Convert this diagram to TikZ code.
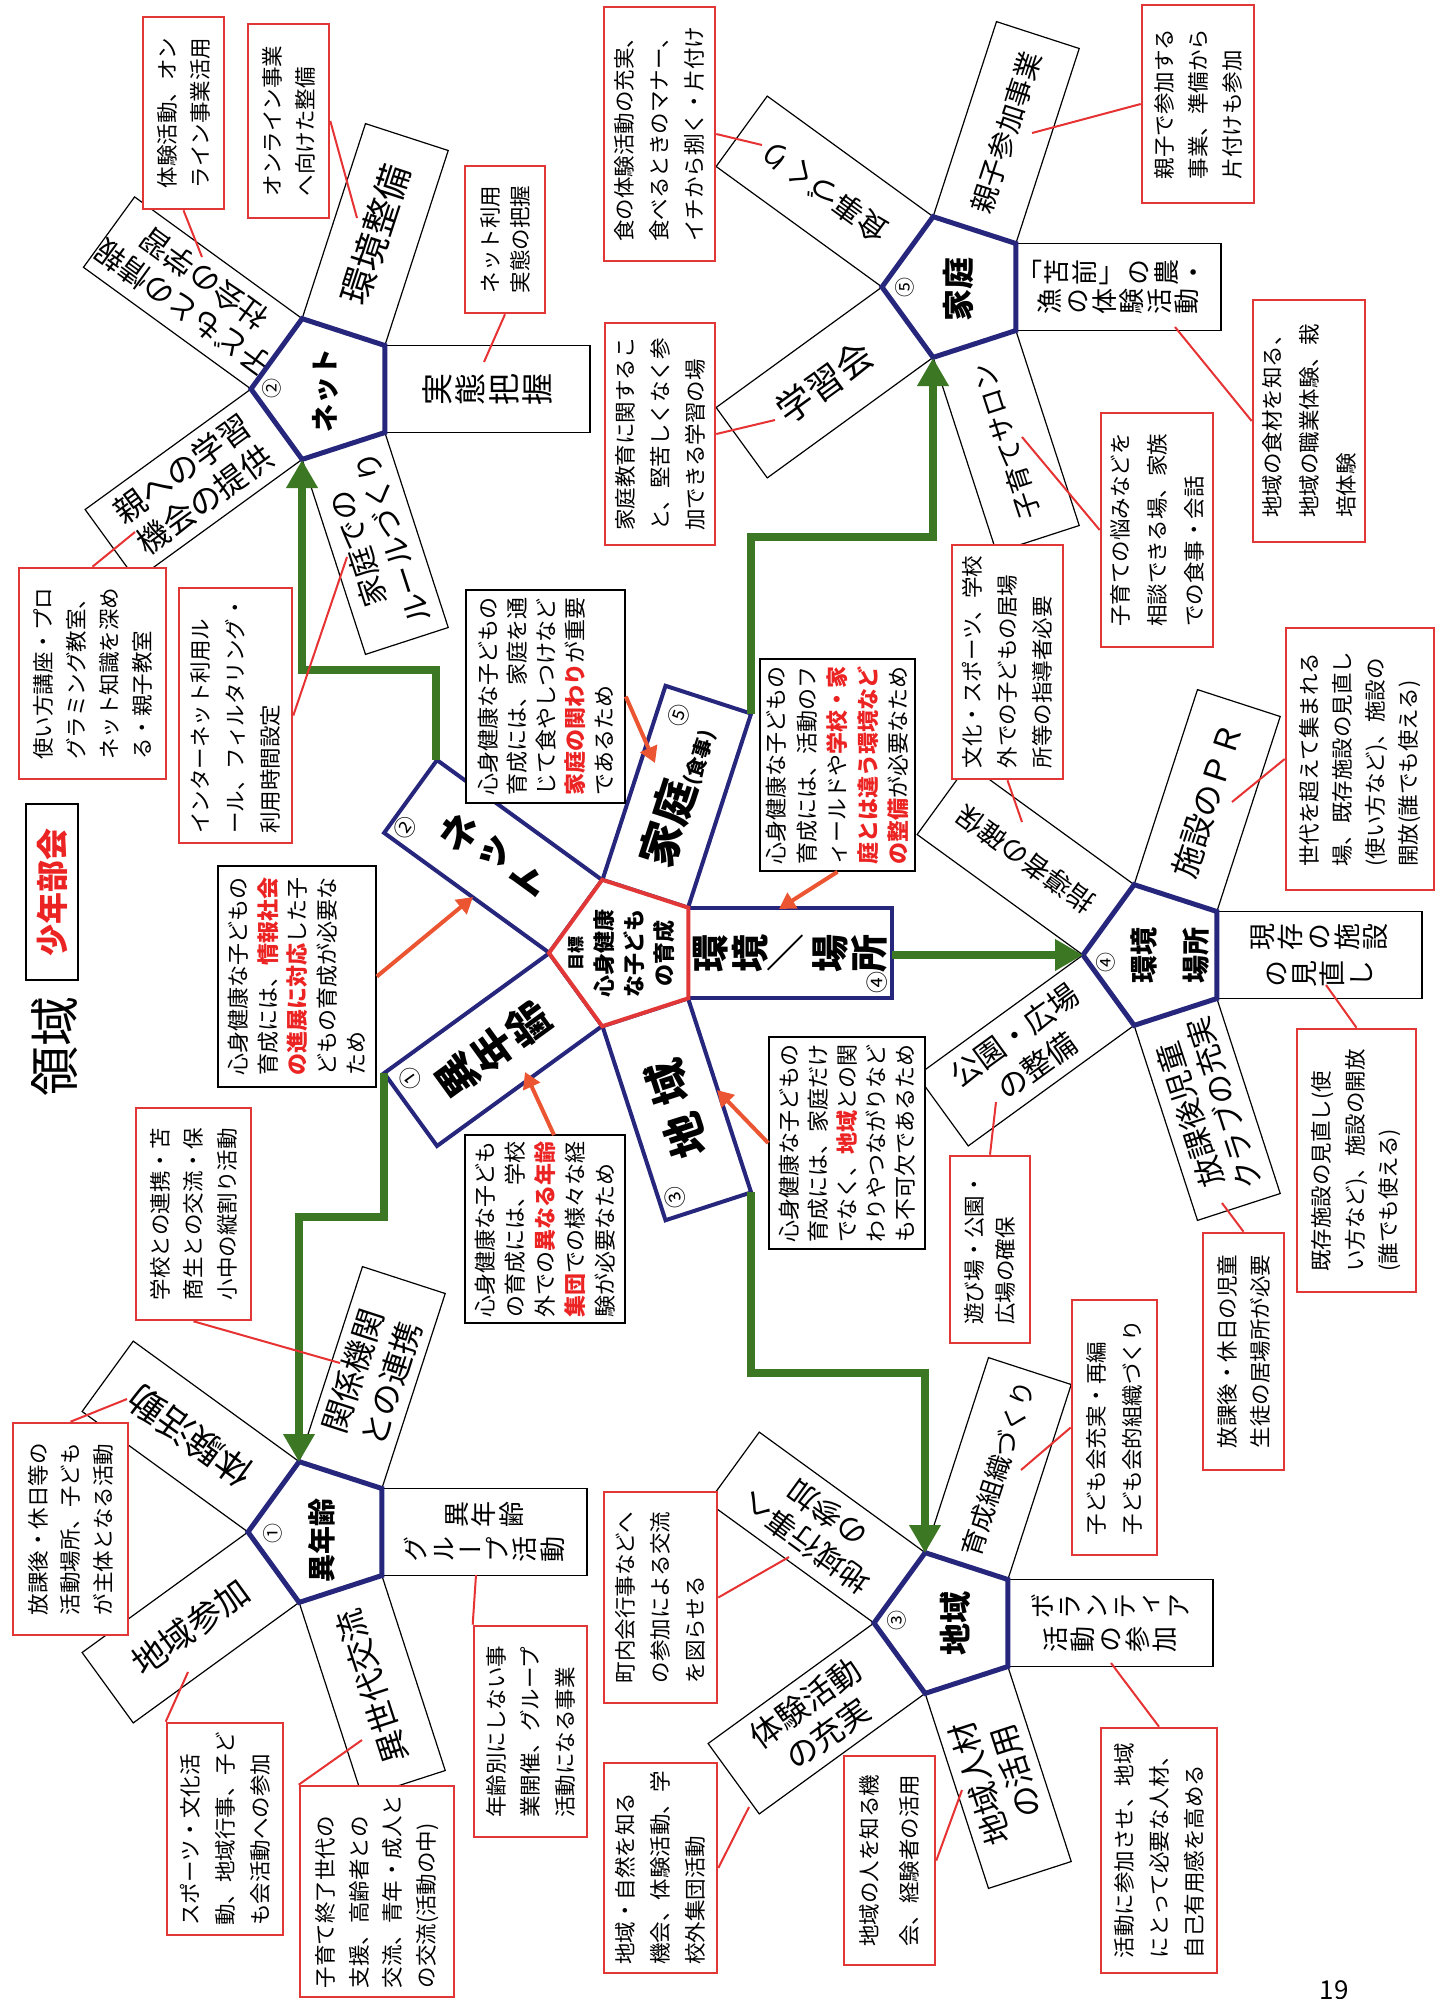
\documentclass[tikz,border=0pt]{standalone}
\usepackage{fontspec}
\usepackage{graphicx}
\setmainfont{Noto Sans CJK JP}
\newfontfamily\jpv{Noto Sans CJK JP}[RawFeature=+vert]
\usetikzlibrary{arrows.meta}
\definecolor{navy}{RGB}{38,38,125}
\definecolor{boxred}{RGB}{225,55,55}
\definecolor{linered}{RGB}{230,50,50}
\definecolor{arrred}{RGB}{235,85,50}
\definecolor{txtred}{RGB}{235,35,35}
\definecolor{grn}{RGB}{60,120,35}
\newcommand\fs[2]{\fontsize{#1}{#2}\selectfont}
\newcommand\redb[1]{{\color{txtred}\bfseries #1}}
\makeatletter
\def\tate@end{tate@end@quark}
\def\tate@loop#1{\ifx\tate@end#1\else\hbox to 1em{\hss#1\hss}\expandafter\tate@loop\fi}
\newcommand\tate[1]{\ensuremath{\vcenter{\jpv\baselineskip=1.05em\lineskiplimit=-100pt\lineskip=0pt\tate@loop#1\tate@end}}}
\newcommand\tatetwo[3]{\tate{#3}\hspace{#1}\tate{#2}}
\makeatother
\newcommand\petal[6]{\node[#5] (#1) at ({#2+162.4*cos(#4)},{#3+162.4*sin(#4)}) {#6};}
\newcommand\pent[4]{\draw[#4] ({#1-#3},{#2}) -- ({#1-0.309*#3},{#2-0.951*#3}) -- ({#1+0.809*#3},{#2-0.588*#3}) -- ({#1+0.809*#3},{#2+0.588*#3}) -- ({#1-0.309*#3},{#2+0.951*#3}) -- cycle;}
\begin{document}
\begin{tikzpicture}[x=0.5pt,y=-0.5pt,
  petal/.style={draw=black, line width=0.6pt, fill=white, inner sep=0pt, align=center},
  pyoko/.style={petal, minimum width=102.5pt, minimum height=43.5pt},
  ptate/.style={petal, minimum width=43.5pt, minimum height=102.5pt, rotate=90},
  arm/.style={draw=navy, line width=2pt, fill=white, inner sep=0pt},
  armv/.style={arm, minimum width=45pt, minimum height=102pt},
  armh/.style={arm, minimum width=102pt, minimum height=45pt},
  note/.style={draw=boxred, line width=1.3pt, fill=white, rotate=90, inner sep=0pt, align=left},
  reason/.style={draw=black, line width=0.8pt, fill=white, rotate=90, inner sep=0pt, align=left},
  conn/.style={draw=linered, line width=1pt},
  rarrow/.style={draw=arrred, line width=2pt, -{Triangle[width=9pt,length=8pt]}},
  garrow/.style={draw=grn, line width=4pt, -{Triangle[width=15pt,length=14pt]}},
  num/.style={inner sep=0pt, font=\fs{10}{10}},
  satpent/.style={draw=navy, line width=2.5pt, fill=white},
  lab/.style={inner sep=0pt, rotate=90, font=\bfseries\fs{14}{14}}
]
\path[use as bounding box, fill=white] (0,0) rectangle (1446,1999);

% ---------- petals ----------
% Net
\petal{pNet0}{325}{389}{0}{ptate, font=\fs{16}{16}}{\tate{実態把握}}
\petal{pNet72}{325}{389}{72}{pyoko, rotate=108, font=\fs{15}{18}}{家庭での\\ルールづくり}
\petal{pNet144}{325}{389}{144}{pyoko, rotate=36, font=\fs{16}{19}}{親への学習\\機会の提供}
\petal{pNet216}{325}{389}{216}{pyoko, rotate=144, font=\fs{15}{18}}{子どもとの情報\\社会の学習}
\petal{pNet288}{325}{389}{288}{pyoko, rotate=72, font=\fs{18}{21}}{環境整備}
% Home
\petal{pHome0}{956}{287}{0}{ptate, font=\fs{13}{13}}{\tatetwo{1.5pt}{「苫前」の農・}{漁の体験活動}}
\petal{pHome72}{956}{287}{72}{pyoko, rotate=108, font=\fs{13.5}{16}}{子育てサロン}
\petal{pHome144}{956}{287}{144}{pyoko, rotate=36, font=\fs{18}{21}}{学習会}
\petal{pHome216}{956}{287}{216}{pyoko, rotate=144, font=\fs{15}{18}}{食事づくり}
\petal{pHome288}{956}{287}{288}{pyoko, rotate=72, font=\fs{14}{17}}{親子参加事業}
% Environment
\petal{pEnv0}{1157}{955}{0}{ptate, font=\fs{13.5}{13.5}}{\tatetwo{5pt}{現存の施設}{の見直し}}
\petal{pEnv72}{1157}{955}{72}{pyoko, rotate=108, font=\fs{15}{18}}{放課後児童\\クラブの充実}
\petal{pEnv144}{1157}{955}{144}{pyoko, rotate=36, font=\fs{15}{19}}{公園・広場\\の整備}
\petal{pEnv216}{1157}{955}{216}{pyoko, rotate=144, font=\fs{13.5}{16}}{指導者の確保}
\petal{pEnv288}{1157}{955}{288}{pyoko, rotate=72, font=\fs{16}{19}}{施設のＰＲ}
% Age
\petal{pAge0}{322}{1532}{0}{ptate, font=\fs{13}{13}}{\tatetwo{4.5pt}{異年齢}{グループ活動}}
\petal{pAge72}{322}{1532}{72}{pyoko, rotate=108, font=\fs{16}{19}}{異世代交流}
\petal{pAge144}{322}{1532}{144}{pyoko, rotate=36, font=\fs{17}{20}}{地域参加}
\petal{pAge216}{322}{1532}{216}{pyoko, rotate=144, font=\fs{18}{21}}{体験活動}
\petal{pAge288}{322}{1532}{288}{pyoko, rotate=72, font=\fs{16}{20}}{関係機関\\との連携}
% Region
\petal{pReg0}{948}{1623}{0}{ptate, font=\fs{13}{13}}{\tatetwo{3.5pt}{ボランティア}{活動の参加}}
\petal{pReg72}{948}{1623}{72}{pyoko, rotate=108, font=\fs{16}{19}}{地域人材\\の活用}
\petal{pReg144}{948}{1623}{144}{pyoko, rotate=36, font=\fs{16}{19}}{体験活動\\の充実}
\petal{pReg216}{948}{1623}{216}{pyoko, rotate=144, font=\fs{15}{18}}{地域行事へ\\の参加}
\petal{pReg288}{948}{1623}{288}{pyoko, rotate=72, font=\fs{13}{16}}{育成組織づくり}

% ---------- satellite pentagons ----------
\pent{325}{389}{74}{satpent}
\pent{956}{287}{74}{satpent}
\pent{1157}{955}{74}{satpent}
\pent{322}{1532}{74}{satpent}
\pent{948}{1623}{74}{satpent}
\node[lab] (lNet) at (325,390) {ネット};
\node[num, rotate=90] (nNetS) at (272,388) {②};
\node[lab, font=\bfseries\fs{16}{16}] (lHome) at (958,289) {家庭};
\node[num, rotate=90] (nHomeS) at (905,287) {⑤};
\node[lab] (lEnvA) at (1144,955) {環境};
\node[lab] (lEnvB) at (1196,955) {場所};
\node[num, rotate=90] (nEnvS) at (1106,962) {④};
\node[lab] (lAge) at (322,1540) {異年齢};
\node[num, rotate=90] (nAgeS) at (273,1533) {①};
\node[lab, font=\bfseries\fs{16}{16}] (lReg) at (955,1623) {地域};
\node[num, rotate=90] (nRegS) at (897,1620) {③};

% ---------- central arms ----------
\node[armv, rotate=54, font=\bfseries\fs{20}{20}] (armNet) at (493.1,856.4) {\tate{ネット}};
\node[armh, rotate=72] (armHome) at (676.8,796.7) {\bfseries\fs{22}{22}家庭\fs{10}{10}(食事)};
\node[armv, rotate=90, font=\bfseries\fs{19}{19}] (armEnv) at (790.3,953) {\tate{環境{\rotatebox{90}{／}}場所}};
\node[armh, rotate=108, font=\bfseries\fs{22}{22}] (armReg) at (676.8,1109.3) {地\hspace{6pt}域};
\node[armv, rotate=126, font=\bfseries\fs{21}{21}] (armAge) at (493.1,1049.6) {\tate{異年齢}};
\node[num, rotate=54, font=\fs{11}{11}] (nNet) at (405,828) {②};
\node[num, rotate=72, font=\fs{11}{11}] (nHome) at (679,715) {⑤};
\node[num, rotate=90, font=\fs{11}{11}] (nEnv) at (877,982) {④};
\node[num, rotate=108, font=\fs{11}{11}] (nReg) at (675,1198) {③};
\node[num, rotate=126, font=\fs{11}{11}] (nAge) at (410,1078) {①};
\pent{626}{953}{77}{draw=boxred, line width=2pt, fill=white}
\node[rotate=90, align=center, inner sep=0pt, font=\bfseries\fs{11}{15}] (goal) at (621,953) {{\fs{8.5}{15}目標}\\心身健康\\な子ども\\の育成};

% ---------- notes ----------
\node[note, minimum width=96pt, minimum height=40.5pt, font=\fs{10.75}{16.5}] (n1) at (183.5,113) {体験活動、オン\\ライン事業活用};
\node[note, minimum width=97pt, minimum height=40.5pt, font=\fs{10.75}{16.5}] (n2) at (288.5,121) {オンライン事業\\へ向けた整備};
\node[note, minimum width=73.5pt, minimum height=40pt, font=\fs{10.75}{15}] (n3) at (505,239.5) {ネット利用\\実態の把握};
\node[note, minimum width=127pt, minimum height=55.5pt, font=\fs{10.75}{17.5}] (n4) at (659.5,134) {食の体験活動の充実、\\食べるときのマナー、\\イチから捌く・片付け};
\node[note, minimum width=111pt, minimum height=55pt, font=\fs{10.75}{17.5}] (n5) at (660,434) {家庭教育に関するこ\\と、堅苦しくなく参\\加できる学習の場};
\node[note, minimum width=99pt, minimum height=56pt, font=\fs{10.75}{17}] (n6) at (1198,104) {親子で参加する\\事業、準備から\\片付けも参加};
\node[note, minimum width=121pt, minimum height=56pt, font=\fs{10.75}{18.5}] (n7) at (1309,421) {地域の食材を知る、\\地域の職業体験、栽\\培体験};
\node[note, minimum width=105.5pt, minimum height=73.5pt, font=\fs{10.75}{16.5}] (n8) at (92.5,673.5) {使い方講座・プロ\\グラミング教室、\\ネット知識を深め\\る・親子教室};
\node[note, minimum width=127.5pt, minimum height=56.5pt, font=\fs{10.75}{17.5}] (n9) at (235.5,715.5) {インターネット利用ル\\ール、フィルタリング・\\利用時間設定};
\node[note, minimum width=117pt, minimum height=56pt, font=\fs{10.75}{18.5}] (n14) at (1157,530) {子育ての悩みなどを\\相談できる場、家族\\での食事・会話};
\node[note, minimum width=117pt, minimum height=55.5pt, font=\fs{10.75}{17.5}] (n15) at (1007.5,662) {文化・スポーツ、学校\\外での子どもの居場\\所等の指導者必要};
\node[note, minimum width=131pt, minimum height=74pt, font=\fs{10.75}{16.5}] (n16) at (1360,759) {世代を超えて集まれる\\場、既存施設の見直し\\(使い方など)、施設の\\開放(誰でも使える)};
\node[note, minimum width=106pt, minimum height=57.5pt, font=\fs{10.75}{16.75}] (n17) at (193.5,1214) {学校との連携・苫\\商生との交流・保\\小中の縦割り活動};
\node[note, minimum width=106pt, minimum height=57.5pt, font=\fs{10.75}{16.25}] (n18) at (70.5,1529) {放課後・休日等の\\活動場所、子ども\\が主体となる活動};
\node[note, minimum width=93.5pt, minimum height=40pt, font=\fs{10.75}{15.5}] (n21) at (990,1249.5) {遊び場・公園・\\広場の確保};
\node[note, minimum width=118.5pt, minimum height=40.5pt, font=\fs{10.75}{16.5}] (n22) at (1243.5,1351.5) {放課後・休日の児童\\生徒の居場所が必要};
\node[note, minimum width=131.5pt, minimum height=59.5pt, font=\fs{10.75}{16.75}] (n23) at (1356.5,1160.5) {既存施設の見直し(使\\い方など)、施設の開放\\(誰でも使える)};
\node[note, minimum width=127.5pt, minimum height=42.5pt, font=\fs{10.75}{18}] (n24) at (1114.5,1427.5) {子ども会充実・再編\\子ども会的組織づくり};
\node[note, minimum width=106pt, minimum height=58pt, font=\fs{10.75}{17.5}] (n25) at (225,1829) {スポーツ・文化活\\動、地域行事、子ど\\も会活動への参加};
\node[note, minimum width=105.5pt, minimum height=77pt, font=\fs{10.75}{16.75}] (n26) at (377,1891.5) {子育て終了世代の\\支援、高齢者との\\交流、青年・成人と\\の交流(活動の中)};
\node[note, minimum width=105.5pt, minimum height=56.5pt, font=\fs{10.75}{17.25}] (n27) at (530.5,1731.5) {年齢別にしない事\\業開催、グループ\\活動になる事業};
\node[note, minimum width=105.5pt, minimum height=56.5pt, font=\fs{10.75}{17.5}] (n28) at (660.5,1597.5) {町内会行事などへ\\の参加による交流\\を図らせる};
\node[note, minimum width=105pt, minimum height=56.5pt, font=\fs{10.75}{17.5}] (n29) at (660.5,1868) {地域・自然を知る\\機会、体験活動、学\\校外集団活動};
\node[note, minimum width=104.5pt, minimum height=45.5pt, font=\fs{10.75}{20}] (n30) at (889.5,1860.5) {地域の人を知る機\\会、経験者の活用};
\node[note, minimum width=122.5pt, minimum height=58pt, font=\fs{10.75}{17.5}] (n31) at (1159,1850.5) {活動に参加させ、地域\\にとって必要な人材、\\自己有用感を高める};

% reason boxes
\node[reason, minimum width=110.5pt, minimum height=79pt, font=\fs{11}{14.75}] (n11) at (297,976.5) {心身健康な子どもの\\育成には、\redb{情報社会}\\\redb{の進展に対応}した子\\どもの育成が必要な\\ため};
\node[reason, minimum width=106.5pt, minimum height=79.5pt, font=\fs{11}{14.5}] (n12) at (545.5,696.5) {心身健康な子どもの\\育成には、家庭を通\\じて食やしつけなど\\\redb{家庭の関わり}が重要\\であるため};
\node[reason, minimum width=106pt, minimum height=77.5pt, font=\fs{11}{15.25}] (n13) at (837.5,765) {心身健康な子どもの\\育成には、活動のフ\\ィールドや\redb{学校・家}\\\redb{庭とは違う環境など}\\\redb{の整備}が必要なため};
\node[reason, minimum width=94pt, minimum height=80pt, font=\fs{11}{15}] (n19) at (545,1229) {心身健康な子ども\\の育成には、学校\\外での\redb{異なる年齢}\\\redb{集団}での様々な経\\験が必要なため};
\node[reason, minimum width=106pt, minimum height=78pt, font=\fs{11}{14.5}] (n20) at (847,1143) {心身健康な子どもの\\育成には、家庭だけ\\でなく、\redb{地域}との関\\わりやつながりなど\\も不可欠であるため};

% title
\node[rotate=90, inner sep=0pt, font=\fs{25}{25}] (title) at (55,1046) {領域};
\node[draw=black, line width=0.8pt, rotate=90, minimum width=88pt, minimum height=26pt, inner sep=0pt, font=\bfseries\fs{16}{16}, text=txtred] (bukai) at (52,892) {少年部会};
\node[inner sep=0pt, font=\fs{13}{13}] (page) at (1334,1990) {19};

% ---------- green arrows ----------
\coordinate (gA0) at (384,1073); \coordinate (gA1) at (384,1217); \coordinate (gA2) at (299,1217); \coordinate (gA3) at (299,1462);
\draw[garrow] (gA0) -- (gA1) -- (gA2) -- (gA3);
\coordinate (gN0) at (436,760); \coordinate (gN1) at (436,670); \coordinate (gN2) at (302,670); \coordinate (gN3) at (302,460);
\draw[garrow] (gN0) -- (gN1) -- (gN2) -- (gN3);
\coordinate (gH0) at (751,714); \coordinate (gH1) at (751,537); \coordinate (gH2) at (933,537); \coordinate (gH3) at (933,358);
\draw[garrow] (gH0) -- (gH1) -- (gH2) -- (gH3);
\coordinate (gE0) at (892,955); \coordinate (gE1) at (1083,955);
\draw[garrow] (gE0) -- (gE1);
\coordinate (gR0) at (751,1192); \coordinate (gR1) at (751,1373); \coordinate (gR2) at (925,1373); \coordinate (gR3) at (925,1553);
\draw[garrow] (gR0) -- (gR1) -- (gR2) -- (gR3);

% ---------- red connectors ----------
\coordinate (t1) at (202,257); \draw[conn] (n1.west) -- (t1);
\coordinate (t2) at (357,218); \draw[conn] (n2.south) -- (t2);
\coordinate (t3) at (484,362); \draw[conn] (n3.west) -- (t3);
\coordinate (t4) at (762,145); \draw[conn] (n4.south) -- (t4);
\coordinate (t5) at (775,420); \draw[conn] (n5.south) -- (t5);
\coordinate (t6) at (1032,133); \draw[conn] (n6.north) -- (t6);
\coordinate (t7) at (1175,327); \draw[conn] (n7.north) -- (t7);
\coordinate (t8) at (135,532); \draw[conn] (n8.east) -- (t8);
\coordinate (t9) at (347,557); \draw[conn] (n9.south) -- (t9);
\coordinate (t14) at (1022,437); \draw[conn] (n14.north) -- (t14);
\coordinate (t15) at (1022,822); \draw[conn] (n15.west) -- (t15);
\coordinate (t16) at (1232,802); \draw[conn] (n16.north) -- (t16);
\coordinate (t17) at (340,1363); \draw[conn] (n17.west) -- (t17);
\coordinate (t18) at (127,1399); \draw[conn] (n18.east) -- (t18);
\coordinate (t21) at (996,1102); \draw[conn] (n21.east) -- (t21);
\coordinate (t22) at (1222,1203); \draw[conn] (n22.east) -- (t22);
\coordinate (t23) at (1326,985); \draw[conn] (n23.east) -- (t23);
\coordinate (t24) at (1021,1470); \draw[conn] (n24.north) -- (t24);
\coordinate (t25) at (188,1672); \draw[conn] (n25.north east) -- (t25);
\coordinate (t26) at (362,1740); \draw[conn] (n26.north east) -- (t26);
\coordinate (t27) at (476,1575); \draw[conn] (n27.north east) -- (t27);
\coordinate (t28) at (789,1557); \draw[conn] (n28.south) -- (t28);
\coordinate (t29) at (749,1807); \draw[conn] (n29.south) -- (t29);
\coordinate (t30) at (962,1790); \draw[conn] (n30.south) -- (t30);
\coordinate (t31) at (1111,1663); \draw[conn] (n31.east) -- (t31);

% ---------- red arrows ----------
\coordinate (r11) at (473,897); \draw[rarrow] (n11.south) -- (r11);
\coordinate (r12) at (655,763); \draw[rarrow] (n12.south) -- (r12);
\coordinate (r13) at (779,909); \draw[rarrow] (n13.west) -- (r13);
\coordinate (r19s) at (554,1135); \coordinate (r19) at (525,1072); \draw[rarrow] (r19s) -- (r19);
\coordinate (r20) at (717,1090); \draw[rarrow] (n20.north) -- (r20);
\end{tikzpicture}
\end{document}
